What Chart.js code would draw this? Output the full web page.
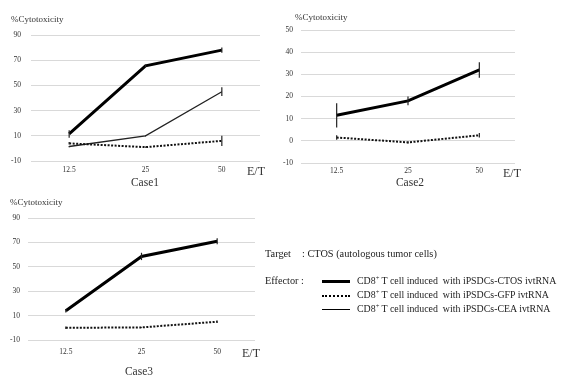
<!DOCTYPE html>
<html>
<head>
<meta charset="utf-8">
<script src="https://cdn.jsdelivr.net/npm/chart.js@4.4.1/dist/chart.umd.min.js"></script>
<style>
  body { margin: 0; background: #fff; }
  #page { position: relative; width: 561px; height: 375px; overflow: hidden; font-family: "Liberation Serif", "DejaVu Serif", serif; color: #222; }
  canvas { position: absolute; }
  .txt { position: absolute; white-space: nowrap; line-height: 1; }
  .ylab { font-size: 9px; color: #333; }
  .et { font-size: 12px; color: #333; }
  .case { font-size: 11.5px; color: #333; transform: translateX(-50%); }
  .leg { font-size: 10.3px; color: #222; }
  .leg.row { font-size: 9.9px; }
  .sample { position: absolute; width: 28px; height: 0; }
  sup { font-size: 6.5px; vertical-align: 4px; line-height: 0; }
</style>
</head>
<body>
<div id="page">
  <canvas id="case1" width="280" height="190" style="left:0;top:0"></canvas>
  <canvas id="case2" width="281" height="190" style="left:280px;top:0"></canvas>
  <canvas id="case3" width="280" height="185" style="left:0;top:190px"></canvas>

  <div class="txt ylab" style="left:11px;top:15px">%Cytotoxicity</div>
  <div class="txt ylab" style="left:295px;top:13px">%Cytotoxicity</div>
  <div class="txt ylab" style="left:10px;top:198px">%Cytotoxicity</div>

  <div class="txt et" style="left:247px;top:165px">E/T</div>
  <div class="txt et" style="left:503px;top:167px">E/T</div>
  <div class="txt et" style="left:242px;top:347px">E/T</div>

  <div class="txt case" style="left:145px;top:177px">Case1</div>
  <div class="txt case" style="left:410px;top:177px">Case2</div>
  <div class="txt case" style="left:139px;top:366px">Case3</div>

  <div class="txt leg" style="left:265px;top:249px">Target</div>
  <div class="txt leg" style="left:302px;top:249px">: CTOS (autologous tumor cells)</div>
  <div class="txt leg" style="left:265px;top:276px">Effector :</div>
  <div class="sample" style="left:322px;top:280px;border-top:3px solid #000"></div>
  <div class="txt leg row" style="left:357px;top:276px">CD8<sup>+</sup> T cell induced&nbsp; with iPSDCs-CTOS ivtRNA</div>
  <div class="sample" style="left:322px;top:295px;border-top:2px dotted #000"></div>
  <div class="txt leg row" style="left:357px;top:290px">CD8<sup>+</sup> T cell induced&nbsp; with iPSDCs-GFP ivtRNA</div>
  <div class="sample" style="left:322px;top:309px;border-top:1px solid #000"></div>
  <div class="txt leg row" style="left:357px;top:304px">CD8<sup>+</sup> T cell induced&nbsp; with iPSDCs-CEA ivtRNA</div>
</div>

<script>
// E/T ratios (x categories)
const etRatios = ['12.5', '25', '50'];

// Case1
const case1Ctos = [11.5, 65.5, 78];
const case1CtosErr = [3, 1, 2];
const case1Gfp = [4, 1, 6];
const case1GfpErr = [1, 0.5, 4];
const case1Cea = [1.5, 10, 45];
const case1CeaErr = [0.5, 0.5, 3.5];

// Case2
const case2Ctos = [11.5, 18, 32];
const case2CtosErr = [5.5, 2, 3.5];
const case2Gfp = [1.5, -0.7, 2.5];
const case2GfpErr = [1, 0.5, 1];

// Case3
const case3Ctos = [14, 58.5, 71];
const case3CtosErr = [1.5, 3, 2.5];
const case3Gfp = [0, 0.3, 5];
const case3GfpErr = [1, 0.3, 1];

// y axis ranges
const yRange1 = [-10, 90, 20];
const yRange2 = [-10, 50, 10];
const yRange3 = [-10, 90, 20];

// draws vertical error bars from dataset.errors
const errorBars = {
  id: 'errorBars',
  afterDatasetsDraw(chart) {
    const ctx = chart.ctx;
    const y = chart.scales.y;
    chart.data.datasets.forEach((ds, i) => {
      if (!ds.errors) return;
      const meta = chart.getDatasetMeta(i);
      ctx.save();
      ctx.strokeStyle = '#222';
      ctx.lineWidth = 1.2;
      meta.data.forEach((pt, j) => {
        const e = ds.errors[j];
        if (!e) return;
        ctx.beginPath();
        ctx.moveTo(pt.x, y.getPixelForValue(ds.data[j] - e));
        ctx.lineTo(pt.x, y.getPixelForValue(ds.data[j] + e));
        ctx.stroke();
      });
      ctx.restore();
    });
  }
};

function ctosSet(data, errors) {
  return { data: data, errors: errors, borderColor: '#000', borderWidth: 3, pointRadius: 0, tension: 0 };
}
function gfpSet(data, errors) {
  return { data: data, errors: errors, borderColor: '#111', borderWidth: 2, borderDash: [2, 1.5], pointRadius: 0, tension: 0 };
}
function ceaSet(data, errors) {
  return { data: data, errors: errors, borderColor: '#222', borderWidth: 1.3, pointRadius: 0, tension: 0 };
}

function makeChart(id, datasets, range, box) {
  new Chart(document.getElementById(id), {
    type: 'line',
    data: { labels: etRatios, datasets: datasets },
    options: {
      responsive: false,
      animation: false,
      layout: { padding: { left: 0, top: box.top, right: box.right, bottom: box.bottom } },
      plugins: { legend: { display: false }, tooltip: { enabled: false } },
      scales: {
        x: {
          offset: true,
          grid: { display: false, drawTicks: false },
          border: { display: false },
          ticks: { color: '#333', padding: box.xPad, maxRotation: 0, font: { family: 'Liberation Serif', size: 7.5 } },
          afterFit: s => { s.height = 20; }
        },
        y: {
          min: range[0], max: range[1],
          grid: { color: '#d9d9d9', lineWidth: 1, drawTicks: false },
          border: { display: false },
          ticks: { stepSize: range[2], color: '#333', padding: box.yPad, font: { family: 'Liberation Serif', size: 7.5 } },
          afterFit: s => { s.width = box.left; }
        }
      }
    },
    plugins: [errorBars]
  });
}

makeChart('case1', [ctosSet(case1Ctos, case1CtosErr), gfpSet(case1Gfp, case1GfpErr), ceaSet(case1Cea, case1CeaErr)],
  yRange1, { left: 31, top: 35, right: 20, bottom: 9, xPad: 5, yPad: 10 });
makeChart('case2', [ctosSet(case2Ctos, case2CtosErr), gfpSet(case2Gfp, case2GfpErr)],
  yRange2, { left: 21, top: 30, right: 46, bottom: 7, xPad: 4, yPad: 8 });
makeChart('case3', [ctosSet(case3Ctos, case3CtosErr), gfpSet(case3Gfp, case3GfpErr)],
  yRange3, { left: 28, top: 28, right: 25, bottom: 15, xPad: 8, yPad: 8 });
</script>
</body>
</html>
